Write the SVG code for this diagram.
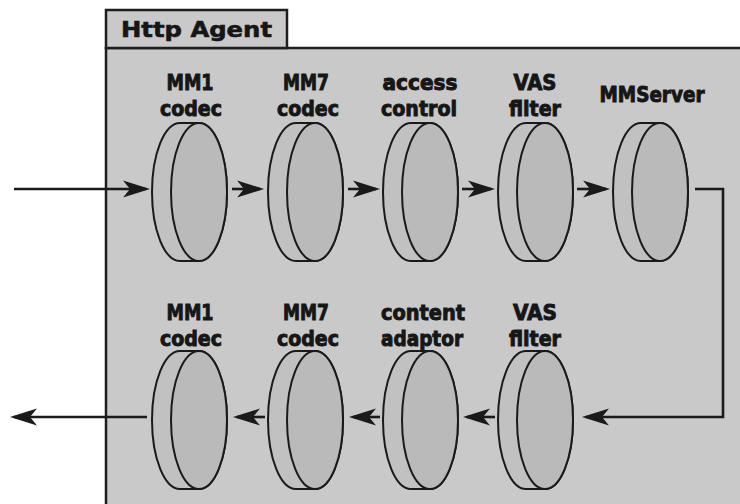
<svg xmlns="http://www.w3.org/2000/svg" xmlns:xlink="http://www.w3.org/1999/xlink" width="740" height="504" viewBox="0 0 740 504">
<style>
.frame{fill:#c9c9c9;stroke:#1e1e1e;stroke-width:2.5}
.shell{fill:#c1c1c1;stroke:#1a1a1a;stroke-width:2}
.face{fill:#bababa;stroke:#1a1a1a;stroke-width:2}
.lbl{font-family:"DejaVu Sans Condensed","Liberation Sans Narrow","DejaVu Sans",sans-serif;font-weight:bold;font-size:22px;fill:#161616;stroke:#161616;stroke-width:0.9;text-anchor:middle}
.title{font-family:"DejaVu Sans","Liberation Sans",sans-serif;font-weight:bold;font-size:22px;fill:#161616;stroke:#161616;stroke-width:0.6}
.conn{fill:none;stroke:#1a1a1a;stroke-width:2.6;marker-end:url(#ah)}
</style>
<defs>
<marker id="ah" viewBox="-27 -9 27 18" refX="-4" refY="0" markerWidth="27" markerHeight="18" markerUnits="userSpaceOnUse" orient="auto">
<path d="M0,0 L-27,-8.5 L-20,0 L-27,8.5 Z" fill="#1a1a1a"/>
</marker>
<g id="disk">
<path class="shell" d="M-19,-69 A28,69 0 0 0 -19,69 L0,69 A28,69 0 0 0 0,-69 Z"/>
<ellipse class="face" cx="0" cy="0" rx="28" ry="69"/>
</g>
</defs>
<rect width="740" height="504" fill="#ffffff"/>
<g id="http-agent">
<rect class="frame" x="106" y="48" width="660" height="480"/>
<rect class="frame" x="106" y="10" width="181" height="38"/>
<text class="title" x="121" y="37" textLength="151" lengthAdjust="spacingAndGlyphs">Http Agent</text>
</g>
<g id="connectors">
<line class="conn" x1="14" y1="189" x2="146" y2="189"/>
<line class="conn" x1="232" y1="189" x2="260" y2="189"/>
<line class="conn" x1="348" y1="189" x2="376" y2="189"/>
<line class="conn" x1="462" y1="189" x2="491" y2="189"/>
<line class="conn" x1="577" y1="189" x2="606" y2="189"/>
<path class="conn" d="M695,189 H723 V417 H586"/>
<line class="conn" x1="495" y1="417" x2="467" y2="417"/>
<line class="conn" x1="380" y1="417" x2="353" y2="417"/>
<line class="conn" x1="265" y1="417" x2="237" y2="417"/>
<line class="conn" x1="147" y1="417" x2="14" y2="417"/>
</g>
<g id="mm1-codec-in">
<use xlink:href="#disk" transform="translate(199,192)"/>
<text class="lbl" x="190" y="90" textLength="47" lengthAdjust="spacingAndGlyphs">MM1</text>
<text class="lbl" x="191" y="116" textLength="62" lengthAdjust="spacingAndGlyphs">codec</text>
</g>
<g id="mm7-codec-in">
<use xlink:href="#disk" transform="translate(315,192)"/>
<text class="lbl" x="306" y="90" textLength="46" lengthAdjust="spacingAndGlyphs">MM7</text>
<text class="lbl" x="308" y="116" textLength="62" lengthAdjust="spacingAndGlyphs">codec</text>
</g>
<g id="access-control">
<use xlink:href="#disk" transform="translate(430,192)"/>
<text class="lbl" x="420" y="90" textLength="75" lengthAdjust="spacingAndGlyphs">access</text>
<text class="lbl" x="419" y="116" textLength="76" lengthAdjust="spacingAndGlyphs">control</text>
</g>
<g id="vas-filter-in">
<use xlink:href="#disk" transform="translate(545,192)"/>
<text class="lbl" x="535" y="90" textLength="43" lengthAdjust="spacingAndGlyphs">VAS</text>
<text class="lbl" x="535" y="116" textLength="52" lengthAdjust="spacingAndGlyphs">filter</text>
</g>
<g id="mmserver">
<use xlink:href="#disk" transform="translate(660,192)"/>
<text class="lbl" x="652" y="102" textLength="105" lengthAdjust="spacingAndGlyphs">MMServer</text>
</g>
<g id="vas-filter-out">
<use xlink:href="#disk" transform="translate(545,420)"/>
<text class="lbl" x="535" y="320" textLength="44" lengthAdjust="spacingAndGlyphs">VAS</text>
<text class="lbl" x="535" y="346" textLength="52" lengthAdjust="spacingAndGlyphs">filter</text>
</g>
<g id="content-adaptor">
<use xlink:href="#disk" transform="translate(430,420)"/>
<text class="lbl" x="423" y="320" textLength="84" lengthAdjust="spacingAndGlyphs">content</text>
<text class="lbl" x="422" y="346" textLength="82" lengthAdjust="spacingAndGlyphs">adaptor</text>
</g>
<g id="mm7-codec-out">
<use xlink:href="#disk" transform="translate(315,420)"/>
<text class="lbl" x="306" y="320" textLength="46" lengthAdjust="spacingAndGlyphs">MM7</text>
<text class="lbl" x="308" y="346" textLength="62" lengthAdjust="spacingAndGlyphs">codec</text>
</g>
<g id="mm1-codec-out">
<use xlink:href="#disk" transform="translate(199,420)"/>
<text class="lbl" x="190" y="320" textLength="47" lengthAdjust="spacingAndGlyphs">MM1</text>
<text class="lbl" x="191" y="346" textLength="62" lengthAdjust="spacingAndGlyphs">codec</text>
</g>
</svg>
